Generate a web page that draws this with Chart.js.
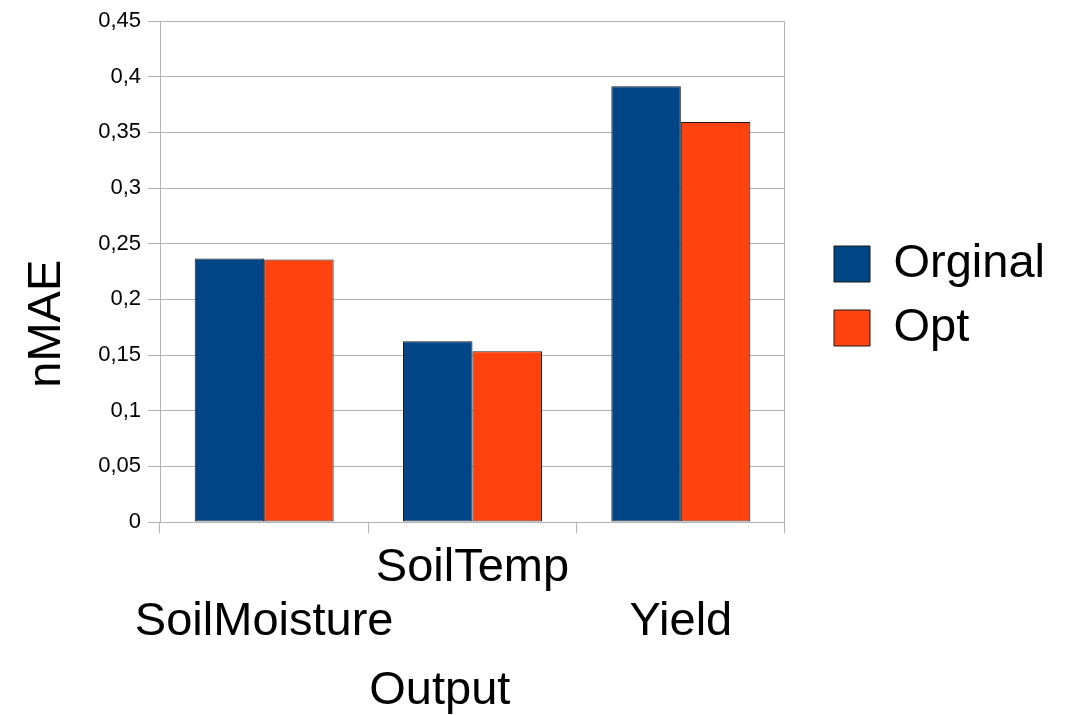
<!DOCTYPE html>
<html>
<head>
<meta charset="utf-8">
<script src="https://cdn.jsdelivr.net/npm/chart.js@4/dist/chart.umd.min.js"></script>
<style>
  html, body { margin: 0; padding: 0; background: #fff; }
  canvas { display: block; }
</style>
</head>
<body>
<canvas id="c" width="1066" height="715"></canvas>
<script>
const categories = ['SoilMoisture', 'SoilTemp', 'Yield'];
const orginalValues = [0.2367, 0.1624, 0.3913];
const optValues = [0.2358, 0.1534, 0.3592];
const yTickLabels = ['0', '0,05', '0,1', '0,15', '0,2', '0,25', '0,3', '0,35', '0,4', '0,45'];

const FONT = 'Liberation Sans, Arial, sans-serif';
const GRID = '#b3b3b3';

new Chart(document.getElementById('c'), {
  type: 'bar',
  data: {
    labels: categories,
    datasets: [
      { label: 'Orginal', data: orginalValues, backgroundColor: '#004586',
        borderColor: '#1a1a1a', borderWidth: 1, borderSkipped: false },
      { label: 'Opt', data: optValues, backgroundColor: '#ff420e',
        borderColor: '#1a1a1a', borderWidth: 1, borderSkipped: false }
    ]
  },
  options: {
    responsive: false,
    animation: false,
    devicePixelRatio: 1,
    layout: { padding: { top: 21, left: 0, bottom: 0, right: 11 } },
    datasets: { bar: { categoryPercentage: 0.667, barPercentage: 1.0 } },
    plugins: {
      tooltip: { enabled: false },
      legend: {
        position: 'right',
        align: 'start',
        maxWidth: 400,
        title: { display: true, text: '', font: { size: 2, lineHeight: 1 }, padding: { top: 200.5, bottom: 0 } },
        labels: {
          boxWidth: 36, boxHeight: 36, padding: 17, color: '#000',
          font: { family: FONT, size: 47 }
        }
      }
    },
    scales: {
      x: {
        grid: { drawOnChartArea: false, color: GRID, tickColor: GRID, tickLength: 11, offset: true },
        border: { color: GRID, width: 1 },
        ticks: {
          autoSkip: false, maxRotation: 0, minRotation: 0, padding: 8, color: '#000',
          font: { family: FONT, size: 47, lineHeight: 1.15 },
          callback: (v, i) => (i % 2 === 1 ? [categories[i], ''] : ['', categories[i]])
        },
        title: { display: true, text: 'Output     ', color: '#000',
          font: { family: FONT, size: 47, lineHeight: 1 }, padding: { top: 0, bottom: 0 } },
        afterFit: (axis) => { axis.height = 193; }
      },
      y: {
        min: 0, max: 0.45,
        grid: { color: GRID, tickLength: 12 },
        border: { color: GRID, width: 1 },
        ticks: { stepSize: 0.05, padding: 7, color: '#000',
          font: { family: FONT, size: 22 },
          callback: (v, i) => yTickLabels[i] },
        title: { display: true, text: 'nMAE        ', color: '#000',
          font: { family: FONT, size: 47, lineHeight: 1 }, padding: { top: 23.5, bottom: 0 } },
        afterFit: (axis) => { axis.width = 160; }
      },
      frame: {
        position: 'right',
        display: true,
        grid: { display: false, drawOnChartArea: false, drawTicks: false },
        border: { display: true, color: GRID, width: 1 },
        ticks: { display: false },
        afterFit: (axis) => { axis.width = 32; }
      }
    }
  }
});
</script>
</body>
</html>
